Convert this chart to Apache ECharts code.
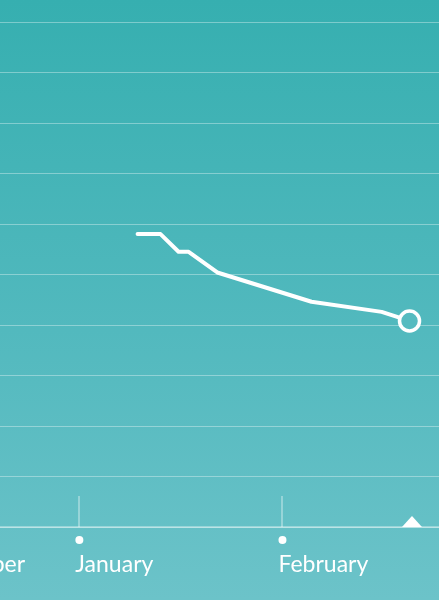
<!DOCTYPE html>
<html>
<head>
<meta charset="utf-8">
<title>Progress</title>
<script src="https://cdn.jsdelivr.net/npm/echarts@6/dist/echarts.min.js"></script>
<style>
    html, body { margin: 0; padding: 0; }
    body { background: linear-gradient(to bottom, #36afb0 0%, #52b9be 55%, #6cc3c9 100%); }
    #main { width: 439px; height: 600px; }
</style>
</head>
<body>
<div id="main"></div>
<script>
    // readings (dates / values)
    var dates = ['2024-01-10 00:00', '2024-01-13 12:00', '2024-01-16 06:00', '2024-01-17 19:00',
                 '2024-01-22 04:00', '2024-02-05 13:00', '2024-02-16 06:00', '2024-02-20 12:00'];
    var values = [5.80, 5.80, 5.45, 5.45, 5.04, 4.46, 4.26, 4.08];
    var today = '2024-02-20 21:00';

    // month labels and where they sit
    var monthNames = ['December', 'January', 'February'];
    var labelDates = ['2023-12-23 20:00', '2023-12-31 12:00', '2024-01-31 12:00'];
    var tickDates = ['2024-01-01 00:00', '2024-02-01 00:00'];
    var viewStart = '2023-12-20 00:00';
    var viewEnd = '2024-02-25 00:00';

    // x axis is in days counted from 1 January
    var origin = new Date(2024, 0, 1).getTime();
    function day(s) {
        var p = s.split(/[- :]/);
        var t = new Date(+p[0], +p[1] - 1, +p[2], +p[3], +p[4]).getTime();
        return Math.round((t - origin) / 36e5) / 24;
    }

    var myChart = echarts.init(document.getElementById('main'));
    var labelDays = labelDates.map(day);
    var seriesData = dates.map(function (d, i) {
        var item = {value: [day(d), values[i]]};
        if (i === dates.length - 1) {
            item.symbol = 'circle';
            item.symbolSize = 20;
            item.itemStyle = {color: '#56bbc0', borderColor: '#fff', borderWidth: 3.5};
        }
        return item;
    });

    var axisColor = 'rgba(255,255,255,0.45)';
    var labelRich = {
        d: {width: 8, height: 8, borderRadius: 4, backgroundColor: '#fff', lineHeight: 8},
        e: {width: 8, height: 8, lineHeight: 8},
        n: {color: '#fff', fontSize: 23, fontFamily: 'Lato', lineHeight: 41}
    };

    option = {
        backgroundColor: 'transparent',
        animation: false,
        grid: {
            left: 0,
            right: 0,
            top: 22,
            bottom: 73,
            containLabel: false,
            outerBoundsMode: 'none'
        },
        xAxis: [
            {
                type: 'value',
                min: day(viewStart),
                max: day(viewEnd),
                axisLine: {onZero: false, lineStyle: {color: axisColor, width: 1.5}},
                axisTick: {
                    inside: true,
                    length: 31,
                    customValues: tickDates.map(day),
                    lineStyle: {color: axisColor, width: 1.5}
                },
                axisLabel: {
                    customValues: labelDays.slice(1),
                    align: 'left',
                    margin: 9,
                    formatter: function (v) {
                        return '{d| }\n{n|' + monthNames[labelDays.indexOf(v)] + '}';
                    },
                    rich: labelRich
                },
                splitLine: {show: false}
            },
            {
                // previous month, partly scrolled off the left edge
                type: 'value',
                position: 'bottom',
                min: day(viewStart),
                max: day(viewEnd),
                axisLine: {show: false},
                axisTick: {show: false},
                axisLabel: {
                    customValues: labelDays.slice(0, 1),
                    align: 'right',
                    margin: 9,
                    formatter: function (v) {
                        return '{e| }\n{n|' + monthNames[0] + '}';
                    },
                    rich: labelRich
                },
                splitLine: {show: false}
            }
        ],
        yAxis: {
            type: 'value',
            min: 0,
            max: 10,
            interval: 1,
            axisLine: {show: false},
            axisTick: {show: false},
            axisLabel: {show: false},
            splitLine: {lineStyle: {color: 'rgba(255,255,255,0.35)', width: 1}}
        },
        series: [
            {
                type: 'line',
                data: seriesData,
                symbol: 'none',
                showSymbol: true,
                lineStyle: {color: '#fff', width: 4, cap: 'round', join: 'round'},
                markPoint: {
                    symbol: 'triangle',
                    symbolSize: [20, 11],
                    symbolOffset: [0, -5.5],
                    itemStyle: {color: '#fff'},
                    label: {show: false},
                    data: [{coord: [day(today), 0]}]
                }
            }
        ]
    };
    myChart.setOption(option);
</script>
</body>
</html>
